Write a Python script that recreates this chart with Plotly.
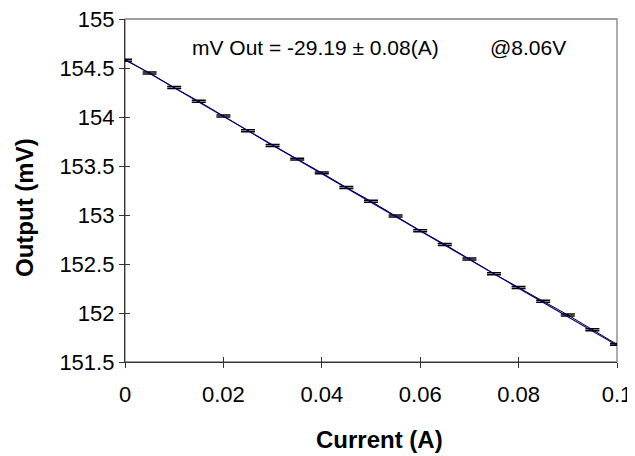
import plotly.graph_objects as go

current = [0.000, 0.005, 0.010, 0.015, 0.020, 0.025, 0.030, 0.035, 0.040, 0.045, 0.050,
           0.055, 0.060, 0.065, 0.070, 0.075, 0.080, 0.085, 0.090, 0.095, 0.100]
output_mv = [154.58, 154.45, 154.30, 154.16, 154.01, 153.86, 153.71, 153.57, 153.43, 153.28, 153.14,
             152.99, 152.84, 152.70, 152.55, 152.40, 152.26, 152.12, 151.98, 151.83, 151.68]
err_mv = [0.01] * len(current)
fit_x = [0.0, 0.1]
fit_y = [154.59, 151.67]

x_ticks = [0, 0.02, 0.04, 0.06, 0.08, 0.1]
x_tick_text = ["0", "0.02", "0.04", "0.06", "0.08", "0.1"]
y_ticks = [151.5, 152, 152.5, 153, 153.5, 154, 154.5, 155]
y_tick_text = ["151.5", "152", "152.5", "153", "153.5", "154", "154.5", "155"]

FONT = "Liberation Sans, Arial, sans-serif"
AX = "#333333"

W, H = 635, 456
ML, MT = 117, 11
PW, PH = 492, 343
MR = W - ML - PW
MB = H - MT - PH

fig = go.Figure()
fig.add_trace(go.Scatter(
    x=fit_x, y=fit_y, mode="lines", xaxis="x2", yaxis="y2",
    line=dict(color="#000080", width=1.2), showlegend=False))
fig.add_trace(go.Scatter(
    x=current, y=output_mv, mode="lines",
    line=dict(color="black", width=1),
    error_y=dict(type="data", array=err_mv, visible=True, color="black", thickness=1.5, width=7),
    showlegend=False, hoverinfo="x+y"))

common = dict(showgrid=False, zeroline=False, automargin=False, showline=True,
              linecolor=AX, linewidth=1.3, tickcolor=AX, tickwidth=1, ticklen=5)

def px_to_paper_x(px):
    return (px - 8 - ML) / PW

def px_to_paper_y(py):
    return 1 - (py - 8 - MT) / PH

fig.update_layout(
    width=W, height=H,
    margin=dict(l=ML, r=MR, t=MT, b=MB),
    paper_bgcolor="white", plot_bgcolor="white",
    font=dict(family=FONT, color="black"),
    xaxis=dict(range=[0, 0.1], tickvals=x_ticks, ticktext=x_tick_text, ticks="outside",
               ticklabelstandoff=7, ticklabeloverflow="allow",
               tickfont=dict(family=FONT, size=22, color="black"), **common),
    yaxis=dict(range=[151.5, 155], tickvals=y_ticks, ticktext=y_tick_text, ticks="outside",
               ticklabeloverflow="allow",
               tickfont=dict(family=FONT, size=22, color="black"), **common),
    xaxis2=dict(range=[0, 0.1], overlaying="x", tickvals=x_ticks, ticks="inside",
                showticklabels=False, **common),
    yaxis2=dict(range=[151.5, 155], overlaying="y", tickvals=y_ticks, ticks="inside",
                showticklabels=False, **common),
    shapes=[dict(type="rect", xref="x domain", yref="y domain", x0=0, x1=1, y0=0, y1=1,
                 line=dict(color="#808080", width=1.3), layer="below")],
    annotations=[
        dict(text="<b>Current (A)</b>", x=px_to_paper_x(379), y=px_to_paper_y(439),
             xref="paper", yref="paper", xanchor="center", yanchor="middle", showarrow=False,
             font=dict(family=FONT, size=24, color="black")),
        dict(text="<b>Output (mV)</b>", x=px_to_paper_x(25), y=px_to_paper_y(208),
             xref="paper", yref="paper", xanchor="center", yanchor="middle", showarrow=False,
             textangle=-90, font=dict(family=FONT, size=24, color="black")),
        dict(text="mV Out = -29.19 ± 0.08(A)", x=0.0133, y=154.71, xref="x", yref="y",
             xanchor="left", yanchor="middle", showarrow=False,
             font=dict(family=FONT, size=21, color="black")),
        dict(text="@8.06V", x=0.0738, y=154.71, xref="x", yref="y",
             xanchor="left", yanchor="middle", showarrow=False,
             font=dict(family=FONT, size=21, color="black")),
    ],
)

fig.write_html("out.html")
